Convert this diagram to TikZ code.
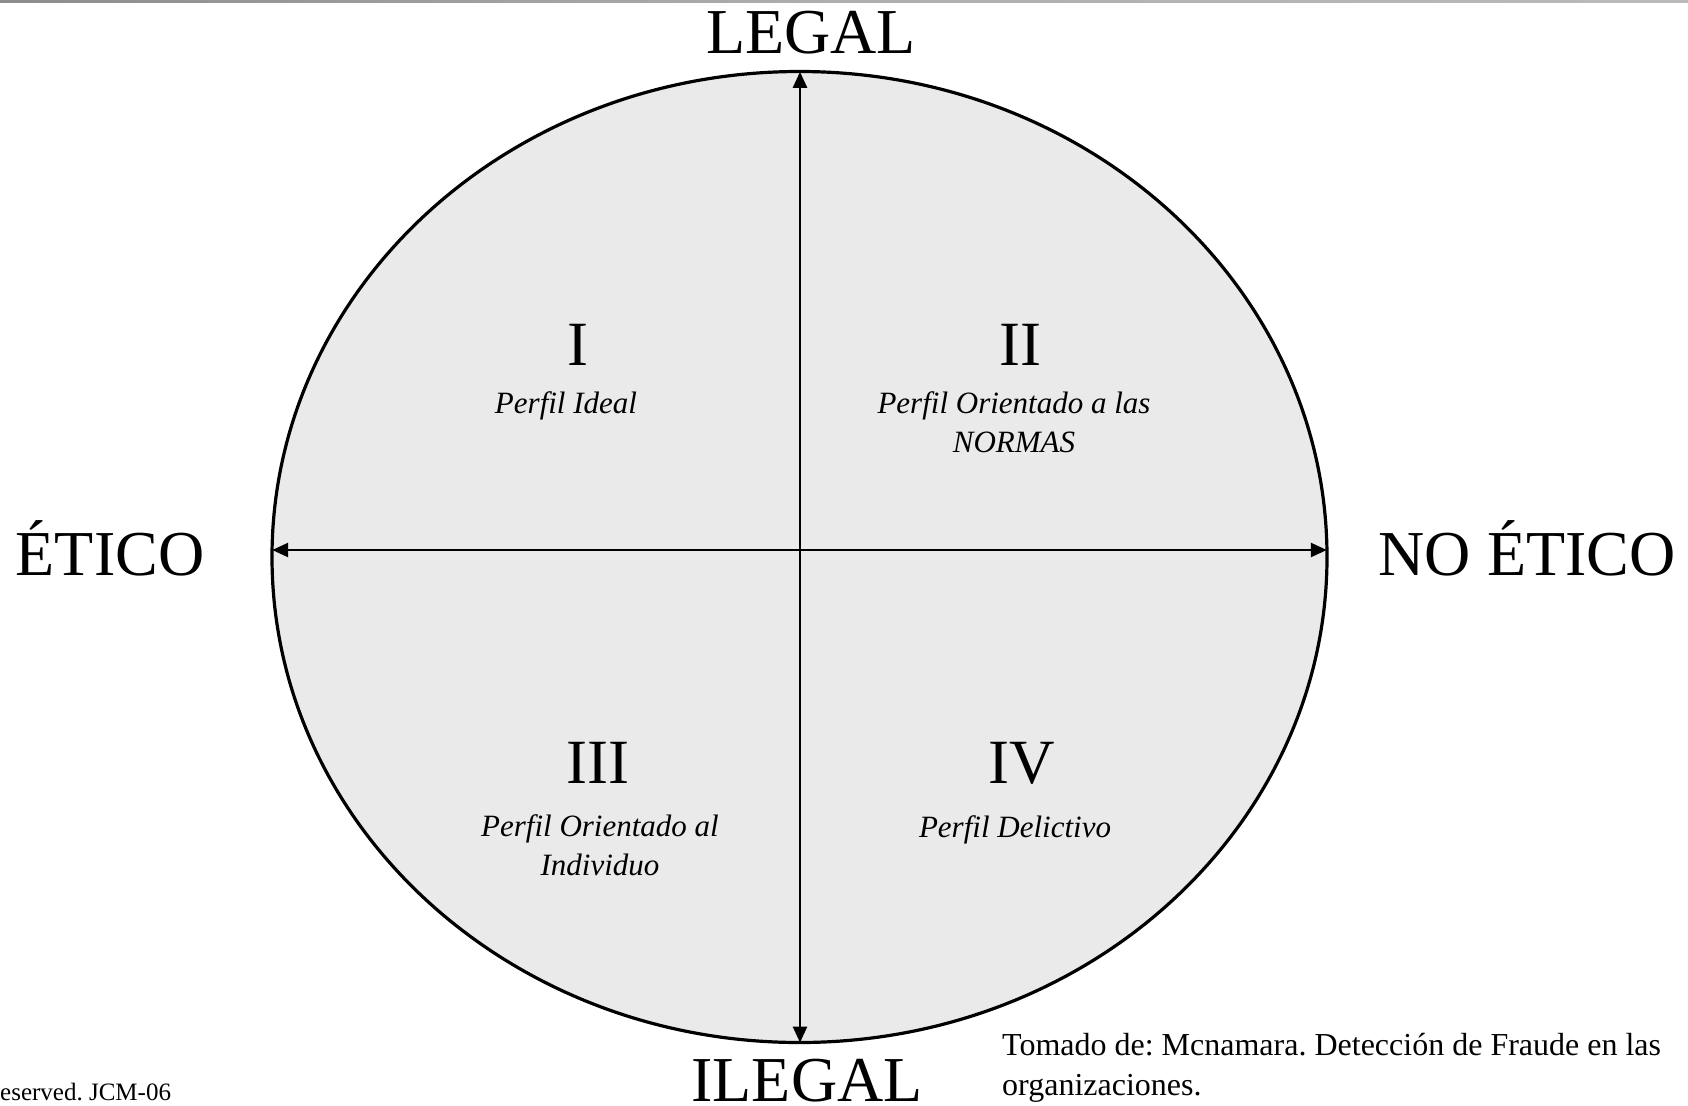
\documentclass[tikz,border=0pt]{standalone}
\usepackage{fontspec}
\setmainfont{Liberation Serif}
\usetikzlibrary{arrows.meta}
\frenchspacing

\definecolor{ovalfill}{HTML}{EAEAEA}
\definecolor{rulegray}{HTML}{8C8C8C}

\tikzset{
  axislabel/.style={anchor=base, inner sep=0pt, font=\fontsize{64}{77}\selectfont},
  quadnum/.style={anchor=base, inner sep=0pt, font=\fontsize{63}{76}\selectfont},
  quadname/.style={anchor=base, inner sep=0pt, align=center,
    font=\fontsize{31}{38.5}\selectfont\itshape},
  axisline/.style={line width=2.5pt, {Triangle[length=16pt,width=14pt]}-{Triangle[length=16pt,width=14pt]}},
  noteline/.style={anchor=base west, inner sep=0pt}
}

\begin{document}
\begin{tikzpicture}[x=1pt,y=-1pt]
  \useasboundingbox (0,0) rectangle (1688,1105);

  % thin shaded rule along the top edge
  \shade[left color=rulegray, right color=rulegray!60, middle color=rulegray!70]
    (0,0) rectangle (1688,2.6);

  % the oval
  \draw[line width=3.2pt, fill=ovalfill] (799.5,557) ellipse [x radius=527.5, y radius=485.5];

  % axis end points on the oval
  \coordinate (west)  at (272.2,550);
  \coordinate (east)  at (1326.8,550);
  \coordinate (north) at (800,71.8);
  \coordinate (south) at (800,1042.6);

  \draw[axisline] (west) -- (east);
  \draw[axisline] (north) -- (south);

  % axis labels
  \node[axislabel] (legal)   at (811,54)    {LEGAL};
  \node[axislabel] (ilegal)  at (807,1101)  {ILEGAL};
  \node[axislabel] (etico)   at (110,575)   {ÉTICO};
  \node[axislabel] (noetico) at (1527,575)  {NO ÉTICO};

  % quadrants (multi-line names are placed by the baseline of their last line)
  \node[quadnum] (q1) at (578,365)  {I};
  \node[quadnum] (q2) at (1020,365) {II};
  \node[quadnum] (q3) at (598,783)  {III};
  \node[quadnum] (q4) at (1022,783) {IV};

  \node[quadname] (q1name) at (566,413)  {Perfil Ideal};
  \node[quadname] (q2name) at (1014,452) {Perfil Orientado a las\\NORMAS};
  \node[quadname] (q3name) at (600,875)  {Perfil Orientado al\\Individuo};
  \node[quadname] (q4name) at (1015,837) {Perfil Delictivo};

  % source note and footer
  \node[noteline, font=\fontsize{32}{40}\selectfont] (source1) at (1002,1055)
    {Tomado de: Mcnamara. Detección de Fraude en las};
  \node[noteline, font=\fontsize{32}{40}\selectfont] (source2) at (1002,1095)
    {organizaciones.};
  \node[noteline, font=\fontsize{25}{30}\selectfont] (footer) at (0,1100)
    {eserved. JCM-06};
\end{tikzpicture}
\end{document}
